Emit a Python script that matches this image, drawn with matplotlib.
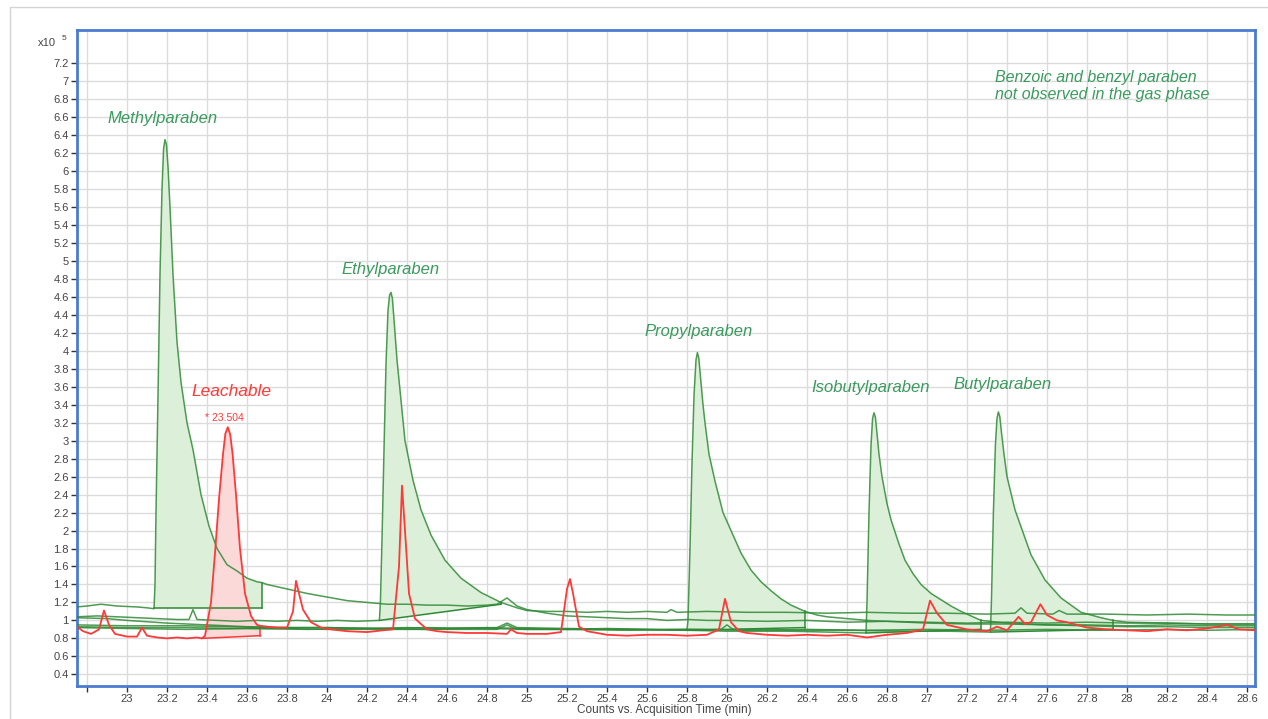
import numpy as np
import matplotlib.pyplot as plt
from matplotlib.patches import Rectangle

plt.rcParams['font.family'] = ['Liberation Sans', 'DejaVu Sans']

# retention time (min) / counts (x10^5)

# Methylparaben EIC
t_methyl = [22.75, 22.8, 22.87, 22.95, 23.05, 23.1, 23.135, 23.14, 23.145, 23.155, 23.165, 23.175,
            23.183, 23.19, 23.197, 23.205, 23.215, 23.23, 23.25, 23.27, 23.3, 23.33, 23.37, 23.41,
            23.45, 23.5, 23.55, 23.6, 23.65, 23.675, 23.7, 23.8, 23.9, 24.0, 24.1, 24.2, 24.3,
            24.4, 24.5, 24.6, 24.7, 24.8, 24.85, 24.9, 24.95, 25.0, 25.1, 25.2, 25.3, 25.4,
            25.5, 25.6, 25.7, 25.8, 25.9, 26.0, 26.2, 26.4, 26.6, 26.8, 27.0, 27.2, 27.4,
            27.6, 27.8, 28.0, 28.2, 28.4, 28.64]
v_methyl = [1.15, 1.16, 1.18, 1.16, 1.15, 1.14, 1.13, 1.4, 2.2, 3.5, 4.85, 5.8,
            6.25, 6.35, 6.3, 6.05, 5.6, 4.85, 4.1, 3.65, 3.2, 2.9, 2.4, 2.05,
            1.8, 1.62, 1.55, 1.47, 1.43, 1.42, 1.4, 1.35, 1.3, 1.26, 1.22, 1.2, 1.18,
            1.18, 1.17, 1.17, 1.16, 1.17, 1.18, 1.25, 1.16, 1.12, 1.08, 1.05, 1.04, 1.03,
            1.02, 1.02, 1.0, 1.01, 1.0, 1.0, 0.99, 1.0, 0.98, 0.99, 0.98, 0.97, 0.98,
            0.97, 0.98, 0.97, 0.97, 0.96, 0.96]

# Ethylparaben EIC
t_ethyl = [22.75, 22.85, 22.95, 23.05, 23.15, 23.25, 23.31, 23.33, 23.35, 23.45, 23.55, 23.65,
           23.75, 23.85, 23.95, 24.05, 24.15, 24.262, 24.267, 24.275, 24.285, 24.295, 24.305,
           24.313, 24.32, 24.327, 24.335, 24.35, 24.37, 24.39, 24.43, 24.47, 24.52, 24.59,
           24.67, 24.77, 24.87, 24.95, 25.0, 25.1, 25.2, 25.3, 25.4, 25.5, 25.6, 25.7, 25.72,
           25.75, 25.9, 26.1, 26.3, 26.5, 26.7, 26.9, 27.1, 27.3, 27.44, 27.47, 27.5, 27.63,
           27.66, 27.7, 27.9, 28.1, 28.3, 28.5, 28.64]
v_ethyl = [1.04, 1.05, 1.04, 1.03, 1.02, 1.01, 1.01, 1.12, 1.01, 1.0, 0.99, 1.0,
           0.99, 1.0, 0.99, 1.0, 0.99, 1.0, 1.2, 1.9, 2.9, 3.85, 4.45,
           4.62, 4.65, 4.58, 4.35, 3.9, 3.45, 3.0, 2.56, 2.23, 1.95, 1.67,
           1.47, 1.31, 1.2, 1.14, 1.11, 1.1, 1.1, 1.09, 1.1, 1.09, 1.1, 1.09, 1.12,
           1.09, 1.1, 1.09, 1.09, 1.08, 1.09, 1.08, 1.08, 1.07, 1.08, 1.14, 1.08, 1.07,
           1.11, 1.07, 1.07, 1.06, 1.07, 1.06, 1.06]

# Propylparaben EIC
t_propyl = [22.75, 22.9, 23.0, 23.2, 23.4, 23.6, 23.8, 24.0, 24.2, 24.4, 24.6, 24.8, 25.0,
            25.2, 25.4, 25.6, 25.8, 25.805, 25.815, 25.825, 25.835, 25.845, 25.852, 25.859,
            25.867, 25.88, 25.89, 25.91, 25.94, 25.98, 26.02, 26.07, 26.12, 26.17, 26.22,
            26.27, 26.32, 26.39, 26.45, 26.5, 26.6, 26.7, 26.8, 27.0, 27.2, 27.4, 27.6, 27.8,
            28.0, 28.2, 28.4, 28.64]
v_propyl = [1.03, 1.02, 1.0, 0.97, 0.95, 0.93, 0.92, 0.92, 0.91, 0.92, 0.91, 0.92, 0.91,
            0.9, 0.91, 0.9, 0.89, 1.0, 1.8, 2.75, 3.5, 3.9, 3.98, 3.92,
            3.72, 3.4, 3.2, 2.85, 2.55, 2.2, 2.0, 1.75, 1.56, 1.43, 1.33,
            1.24, 1.17, 1.1, 1.06, 1.04, 1.02, 1.0, 0.99, 0.97, 0.96, 0.96, 0.95, 0.95,
            0.94, 0.95, 0.94, 0.94]

# Isobutylparaben EIC
t_isobutyl = [22.75, 23.0, 23.3, 23.5, 23.7, 24.0, 24.3, 24.5, 24.8, 25.0, 25.3, 25.5, 25.8,
              26.0, 26.3, 26.5, 26.695, 26.7, 26.71, 26.72, 26.728, 26.735, 26.742, 26.75,
              26.76, 26.775, 26.8, 26.82, 26.86, 26.89, 26.93, 26.97, 27.02, 27.07, 27.12,
              27.17, 27.22, 27.27, 27.4, 27.6, 27.8, 28.0, 28.2, 28.4, 28.64]
v_isobutyl = [0.95, 0.94, 0.94, 0.93, 0.92, 0.92, 0.91, 0.92, 0.91, 0.9, 0.9, 0.9, 0.89,
              0.88, 0.88, 0.87, 0.86, 1.2, 2.2, 2.95, 3.25, 3.31, 3.26, 3.08,
              2.85, 2.6, 2.3, 2.12, 1.85, 1.67, 1.52, 1.4, 1.3, 1.23, 1.16,
              1.1, 1.05, 1.0, 0.97, 0.95, 0.94, 0.93, 0.93, 0.92, 0.92]

# Butylparaben EIC
t_butyl = [22.75, 23.0, 23.3, 23.5, 23.8, 24.0, 24.3, 24.5, 24.85, 24.9, 24.95, 25.2, 25.5,
           25.8, 25.97, 26.0, 26.03, 26.3, 26.6, 26.9, 27.1, 27.317, 27.322, 27.332, 27.342,
           27.35, 27.357, 27.364, 27.372, 27.385, 27.4, 27.44, 27.52, 27.59, 27.67, 27.77,
           27.87, 27.93, 28.0, 28.2, 28.4, 28.64]
v_butyl = [0.93, 0.92, 0.92, 0.91, 0.91, 0.9, 0.9, 0.9, 0.92, 0.97, 0.92, 0.91, 0.9,
           0.9, 0.9, 0.95, 0.9, 0.89, 0.89, 0.88, 0.88, 0.87, 1.2, 2.2, 2.95,
           3.25, 3.32, 3.27, 3.1, 2.85, 2.6, 2.23, 1.73, 1.45, 1.25, 1.09,
           1.03, 1.0, 0.98, 0.97, 0.96, 0.96]

# Benzyl / benzoic EIC (flat, nothing eluted)
t_benzyl = [22.75, 23.0, 23.3, 23.6, 23.9, 24.2, 24.5, 24.85, 24.9, 24.95, 25.2, 25.5, 25.8,
            26.1, 26.4, 26.7, 27.0, 27.3, 27.6, 27.9, 28.2, 28.4, 28.64]
v_benzyl = [0.92, 0.91, 0.9, 0.91, 0.9, 0.91, 0.9, 0.9, 0.95, 0.9, 0.9, 0.89, 0.9,
            0.89, 0.9, 0.89, 0.9, 0.89, 0.9, 0.89, 0.9, 0.89, 0.9]

# Leachable EIC (red)
t_leach = [22.75, 22.78, 22.82, 22.86, 22.885, 22.91, 22.94, 23.0, 23.05, 23.075, 23.1, 23.15,
           23.2, 23.25, 23.3, 23.35, 23.375, 23.39, 23.42, 23.44, 23.46, 23.48, 23.492, 23.504,
           23.516, 23.528, 23.545, 23.565, 23.59, 23.62, 23.65, 23.667, 23.7, 23.75, 23.8, 23.83,
           23.845, 23.86, 23.88, 23.92, 23.97, 24.02, 24.1, 24.2, 24.28, 24.33, 24.36, 24.375,
           24.39, 24.41, 24.44, 24.5, 24.55, 24.6, 24.7, 24.8, 24.9, 24.92, 24.95, 25.0, 25.1,
           25.17, 25.2, 25.215, 25.23, 25.26, 25.3, 25.4, 25.5, 25.6, 25.7, 25.8, 25.9, 25.96,
           25.99, 26.02, 26.06, 26.1, 26.2, 26.3, 26.4, 26.5, 26.6, 26.7, 26.8, 26.9, 26.98,
           27.015, 27.05, 27.1, 27.2, 27.3, 27.35, 27.4, 27.458, 27.49, 27.52, 27.567, 27.6,
           27.65, 27.7, 27.8, 27.9, 28.0, 28.1, 28.2, 28.3, 28.4, 28.5, 28.56, 28.64]
v_leach = [0.93, 0.88, 0.85, 0.9, 1.11, 0.95, 0.85, 0.82, 0.82, 0.92, 0.83, 0.81,
           0.8, 0.81, 0.8, 0.81, 0.8, 0.83, 1.2, 1.75, 2.35, 2.85, 3.08, 3.15,
           3.07, 2.85, 2.4, 1.8, 1.3, 1.05, 0.95, 0.94, 0.93, 0.92, 0.92, 1.1,
           1.44, 1.3, 1.12, 0.98, 0.92, 0.9, 0.88, 0.87, 0.89, 0.9, 1.6, 2.5,
           2.0, 1.3, 1.02, 0.9, 0.88, 0.87, 0.86, 0.86, 0.85, 0.9, 0.86, 0.85, 0.85,
           0.87, 1.35, 1.46, 1.3, 0.93, 0.88, 0.84, 0.83, 0.84, 0.84, 0.83, 0.84, 0.9,
           1.24, 0.98, 0.88, 0.86, 0.84, 0.83, 0.84, 0.83, 0.84, 0.81, 0.84, 0.86, 0.9,
           1.22, 1.08, 0.95, 0.9, 0.88, 0.93, 0.89, 1.04, 0.96, 0.98, 1.18, 1.06,
           1.0, 0.98, 0.92, 0.9, 0.89, 0.88, 0.9, 0.89, 0.91, 0.95, 0.9, 0.89]

# integration windows: (start, end, baseline at start, baseline at end)
int_methyl = (23.135, 23.675, 1.135, 1.135)
int_ethyl = (24.262, 24.87, 1.0, 1.18)
int_propyl = (25.8, 26.39, 0.89, 0.92)
int_isobutyl = (26.695, 27.27, 0.86, 0.9)
int_butyl = (27.317, 27.93, 0.87, 0.9)
int_leach = (23.375, 23.667, 0.8, 0.83)

green = '#2f8a35'
green_txt = '#3a9a5e'
red = '#ff3838'


def integrate(ax, t, v, win, fc, ec):
    t0, t1, b0, b1 = win
    xs = [x for x in t if t0 <= x <= t1]
    ys = [y for x, y in zip(t, v) if t0 <= x <= t1]
    ax.fill(xs + [t1, t0], ys + [b1, b0], facecolor=fc, edgecolor='none', zorder=1)
    ax.plot([t0, t1], [b0, b1], color=ec, lw=1.1, zorder=2)
    ax.plot([t1, t1], [b1, ys[-1]], color=ec, lw=1.1, zorder=2)


fig = plt.figure(figsize=(12.68, 7.19), dpi=100)
fig.patches.append(Rectangle((10 / 1268, -0.1), 1.2, 1 - 7 / 719 + 0.1, transform=fig.transFigure,
                             fill=False, edgecolor='#d4d4d4', lw=1))

ax = fig.add_axes([77 / 1268, 33 / 719, 1178 / 1268, 656 / 719])
ax.set_xlim(22.75, 28.64)
ax.set_ylim(0.27, 7.57)

greens = [(t_methyl, v_methyl, int_methyl), (t_ethyl, v_ethyl, int_ethyl),
          (t_propyl, v_propyl, int_propyl), (t_isobutyl, v_isobutyl, int_isobutyl),
          (t_butyl, v_butyl, int_butyl)]
for t, v, win in greens:
    integrate(ax, t, v, win, '#dcefd9', green)
for t, v, win in greens:
    ax.plot(t, v, color=green, lw=1.1, alpha=0.85, zorder=3)
ax.plot(t_benzyl, v_benzyl, color=green, lw=1.1, alpha=0.85, zorder=3)

integrate(ax, t_leach, v_leach, int_leach, '#fbd9d9', red)
ax.plot(t_leach, v_leach, color=red, lw=1.3, zorder=4)

# ticks and grid
xt = np.round(np.arange(22.8, 28.61, 0.2), 1)
ax.set_xticks(xt)
ax.set_xticklabels([''] + ['%g' % x for x in xt[1:]])
yt = np.round(np.arange(0.4, 7.21, 0.2), 1)
ax.set_yticks(yt)
ax.set_yticklabels(['%g' % y for y in yt])
ax.tick_params(direction='out', length=4, width=1, color='#333333', labelsize=8,
               labelcolor='#444444', pad=2)
ax.grid(color='#dcdcdc', lw=1.0)
ax.set_axisbelow(True)
for s in ax.spines.values():
    s.set_color('#4a7bd0')
    s.set_linewidth(2)

# labels
lab = dict(color=green_txt, style='italic', fontsize=12, ha='center', va='center')
ax.text(23.18, 6.59, 'Methylparaben', **lab)
ax.text(24.32, 4.91, 'Ethylparaben', **lab)
ax.text(25.857, 4.22, 'Propylparaben', **lab)
ax.text(26.72, 3.59, 'Isobutylparaben', **lab)
ax.text(27.38, 3.63, 'Butylparaben', **lab)
ax.text(27.34, 6.95, 'Benzoic and benzyl paraben\nnot observed in the gas phase',
        color=green_txt, style='italic', fontsize=11.5, ha='left', va='center', linespacing=1.15)
ax.text(23.52, 3.55, 'Leachable', color=red, style='italic', fontsize=12.5, ha='center', va='center')
ax.text(23.39, 3.25, '* 23.504', color=red, fontsize=7.5, ha='left', va='center')

fig.text(38 / 1268, 1 - 43 / 719, 'x10', fontsize=8, color='#444444', va='center')
fig.text(62 / 1268, 1 - 39 / 719, '5', fontsize=6, color='#444444', va='center')
fig.text(0.524, 9 / 719, 'Counts vs. Acquisition Time (min)', fontsize=8.5, color='#444444',
         ha='center', va='center')

fig.savefig('out.png', dpi=100)
